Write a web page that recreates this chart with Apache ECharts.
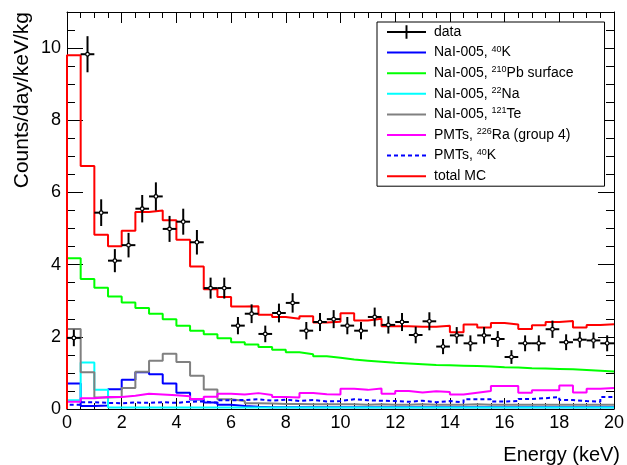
<!DOCTYPE html>
<html>
<head>
<meta charset="utf-8">
<script src="https://cdn.jsdelivr.net/npm/echarts@6/dist/echarts.min.js"></script>
<style>
  html, body { margin: 0; padding: 0; background: #fff; }
  #chart { width: 627px; height: 465px; }
</style>
</head>
<body>
<div id="chart"></div>
<script>
// lower edges of the 0.5 keV bins
const binWidth = 0.5;
const binEdges = [0, 0.5, 1, 1.5, 2, 2.5, 3, 3.5, 4, 4.5, 5, 5.5, 6, 6.5, 7, 7.5, 8, 8.5, 9, 9.5,
  10, 10.5, 11, 11.5, 12, 12.5, 13, 13.5, 14, 14.5, 15, 15.5, 16, 16.5, 17, 17.5, 18, 18.5, 19, 19.5];

// measured spectrum
const dataCounts = [1.97, 9.83, 5.44, 4.11, 4.54, 5.55, 5.89, 4.99, 5.19, 4.62, 3.35, 3.35, 2.31, 2.64, 2.08, 2.66, 2.94, 2.17, 2.41, 2.49,
  2.31, 2.17, 2.55, 2.33, 2.41, 2.05, 2.43, 1.73, 2.04, 1.82, 2.04, 1.94, 1.44, 1.82, 1.82, 2.21, 1.85, 1.92, 1.90, 1.82];
const dataErrors = [0.23, 0.50, 0.37, 0.32, 0.34, 0.38, 0.39, 0.36, 0.36, 0.34, 0.29, 0.29, 0.24, 0.26, 0.23, 0.26, 0.27, 0.24, 0.25, 0.25,
  0.24, 0.24, 0.26, 0.24, 0.25, 0.23, 0.25, 0.21, 0.23, 0.22, 0.23, 0.22, 0.19, 0.22, 0.22, 0.24, 0.22, 0.22, 0.22, 0.22];

// MC components
const naiK40 = [0.71, 0.08, 0.10, 0.55, 0.81, 1.02, 0.96, 0.71, 0.45, 0.26, 0.18, 0.12, 0.08, 0.06, 0.05, 0.05, 0.05, 0.05, 0.05, 0.05,
  0.05, 0.05, 0.05, 0.05, 0.05, 0.05, 0.05, 0.05, 0.05, 0.05, 0.05, 0.05, 0.05, 0.05, 0.05, 0.05, 0.05, 0.05, 0.05, 0.05];
const naiPb210 = [4.18, 3.60, 3.36, 3.12, 2.95, 2.80, 2.64, 2.49, 2.31, 2.17, 2.07, 1.96, 1.85, 1.79, 1.72, 1.64, 1.57, 1.52, 1.46, 1.42,
  1.37, 1.34, 1.31, 1.28, 1.26, 1.24, 1.22, 1.21, 1.20, 1.19, 1.18, 1.16, 1.15, 1.13, 1.12, 1.11, 1.10, 1.08, 1.06, 1.04];
const naiNa22 = [0.24, 1.29, 0.53, 0.04, 0.04, 0.04, 0.04, 0.04, 0.04, 0.04, 0.04, 0.04, 0.04, 0.04, 0.04, 0.04, 0.04, 0.04, 0.04, 0.04,
  0.04, 0.04, 0.04, 0.04, 0.04, 0.04, 0.04, 0.04, 0.04, 0.04, 0.04, 0.04, 0.04, 0.04, 0.04, 0.04, 0.04, 0.04, 0.04, 0.04];
const naiTe121 = [2.22, 1.02, 0.32, 0.33, 0.58, 1.03, 1.34, 1.53, 1.30, 0.92, 0.54, 0.27, 0.22, 0.16, 0.15, 0.14, 0.14, 0.13, 0.13, 0.13,
  0.13, 0.12, 0.13, 0.12, 0.12, 0.13, 0.12, 0.12, 0.12, 0.13, 0.12, 0.12, 0.12, 0.12, 0.12, 0.12, 0.12, 0.12, 0.12, 0.12];
const pmtRa226 = [0.20, 0.30, 0.33, 0.33, 0.37, 0.42, 0.40, 0.38, 0.35, 0.28, 0.34, 0.42, 0.40, 0.44, 0.39, 0.33, 0.32, 0.44, 0.41, 0.40,
  0.56, 0.53, 0.57, 0.42, 0.50, 0.46, 0.49, 0.47, 0.40, 0.45, 0.50, 0.64, 0.64, 0.45, 0.52, 0.52, 0.65, 0.46, 0.56, 0.58];
const pmtK40 = [0.12, 0.19, 0.17, 0.16, 0.18, 0.17, 0.19, 0.17, 0.20, 0.21, 0.17, 0.24, 0.25, 0.27, 0.23, 0.26, 0.22, 0.25, 0.21, 0.22,
  0.27, 0.24, 0.23, 0.22, 0.20, 0.23, 0.19, 0.22, 0.18, 0.27, 0.27, 0.21, 0.22, 0.28, 0.30, 0.33, 0.25, 0.22, 0.20, 0.33];
const totalMC = [9.80, 6.73, 4.83, 4.51, 4.94, 5.46, 5.50, 5.23, 4.69, 3.95, 3.32, 3.10, 2.84, 2.85, 2.61, 2.55, 2.50, 2.57, 2.40, 2.42,
  2.65, 2.45, 2.50, 2.29, 2.29, 2.28, 2.28, 2.31, 2.13, 2.34, 2.26, 2.38, 2.34, 2.22, 2.32, 2.41, 2.44, 2.26, 2.33, 2.35];

const FONT = 'Liberation Sans, Arial, sans-serif';

// histogram outline: start at the baseline, one point per bin edge, close at 20 keV
function histPoints(values) {
  const pts = [[binEdges[0], 0]];
  values.forEach((v, i) => pts.push([binEdges[i], v]));
  pts.push([binEdges[binEdges.length - 1] + binWidth, values[values.length - 1]]);
  return pts;
}

function histSeries(name, values, color, dashed) {
  return {
    name: name,
    type: 'line',
    step: 'end',
    symbol: 'none',
    data: histPoints(values),
    lineStyle: { width: 2, color: color, type: dashed ? [4, 3] : 'solid' },
    itemStyle: { color: color },
    clip: true
  };
}

const dataPoints = binEdges.map((e, i) => [e + binWidth / 2, dataCounts[i], dataErrors[i]]);

const sup = (s) => '{sup|' + s + '}';
const names = {
  data: 'data',
  k40: 'NaI-005, ' + sup('40') + 'K',
  pb210: 'NaI-005, ' + sup('210') + 'Pb surface',
  na22: 'NaI-005, ' + sup('22') + 'Na',
  te121: 'NaI-005, ' + sup('121') + 'Te',
  ra226: 'PMTs, ' + sup('226') + 'Ra (group 4)',
  pmtk40: 'PMTs, ' + sup('40') + 'K',
  total: 'total MC'
};

const axisBase = {
  type: 'value',
  axisLine: { show: true, onZero: false, lineStyle: { color: '#000', width: 1 } },
  splitLine: { show: false },
  axisLabel: { show: false }
};

const chart = echarts.init(document.getElementById('chart'));
chart.setOption({
  animation: false,
  backgroundColor: '#fff',
  grid: { left: 67, right: 7, top: 12, bottom: 56 },
  xAxis: [
    Object.assign({}, axisBase, {
      position: 'bottom', min: 0, max: 20, interval: 2,
      axisTick: { inside: true, length: 11, lineStyle: { color: '#000' } },
      minorTick: { show: true, splitNumber: 4, length: 6, lineStyle: { color: '#000' } },
      axisLabel: { show: true, color: '#000', fontSize: 18, fontFamily: FONT, margin: 5 }
    }),
    Object.assign({}, axisBase, {
      position: 'top', min: 0, max: 20, interval: 2,
      axisTick: { inside: true, length: 11, lineStyle: { color: '#000' } },
      minorTick: { show: true, splitNumber: 4, length: 6, lineStyle: { color: '#000' } }
    })
  ],
  yAxis: [
    Object.assign({}, axisBase, {
      position: 'left', min: 0, max: 11, interval: 2,
      axisTick: { inside: true, length: 16, lineStyle: { color: '#000' } },
      axisLabel: { show: true, color: '#000', fontSize: 18, fontFamily: FONT, margin: 6, showMaxLabel: false }
    }),
    Object.assign({}, axisBase, {
      position: 'left', min: 0, max: 11, interval: 0.5,
      axisLine: { show: false, onZero: false },
      axisTick: { inside: true, length: 8, lineStyle: { color: '#000' } }
    }),
    Object.assign({}, axisBase, {
      position: 'right', min: 0, max: 11, interval: 2,
      axisTick: { inside: true, length: 16, lineStyle: { color: '#000' } }
    }),
    Object.assign({}, axisBase, {
      position: 'right', min: 0, max: 11, interval: 0.5,
      axisLine: { show: false, onZero: false },
      axisTick: { inside: true, length: 8, lineStyle: { color: '#000' } }
    })
  ],
  legend: {
    orient: 'vertical',
    left: 377,
    top: 22,
    padding: [2, 31, 2, 9],
    itemGap: 4.6,
    itemWidth: 39,
    itemHeight: 14,
    backgroundColor: '#fff',
    borderColor: '#000',
    borderWidth: 1,
    borderRadius: 0,
    selectedMode: false,
    // hide the marker drawn on the line icons, keep the line itself
    itemStyle: { opacity: 0 },
    textStyle: {
      color: '#000', fontSize: 14, fontFamily: FONT, lineHeight: 16, padding: [0, 0, 0, 3],
      rich: { sup: { fontSize: 9, lineHeight: 9, verticalAlign: 'top', fontFamily: FONT, color: '#000' } }
    },
    data: [
      { name: names.data, icon: 'path://M0,6h40v2h-40z M19,0h2v14h-2z', itemStyle: { opacity: 1, color: '#000' } },
      names.k40, names.pb210, names.na22, names.te121, names.ra226, names.pmtk40, names.total
    ]
  },
  graphic: [
    {
      type: 'text', x: 22, y: 12, rotation: Math.PI / 2,
      style: { text: 'Counts/day/keV/kg', fontSize: 21, fontFamily: FONT, fill: '#000', textAlign: 'right', textVerticalAlign: 'middle' }
    },
    {
      type: 'text', x: 620, y: 455,
      style: { text: 'Energy (keV)', fontSize: 20, fontFamily: FONT, fill: '#000', textAlign: 'right', textVerticalAlign: 'middle' }
    }
  ],
  series: [
    histSeries(names.k40, naiK40, '#0000ff', false),
    histSeries(names.pb210, naiPb210, '#00ff00', false),
    histSeries(names.na22, naiNa22, '#00ffff', false),
    histSeries(names.te121, naiTe121, '#808080', false),
    histSeries(names.ra226, pmtRa226, '#ff00ff', false),
    histSeries(names.pmtk40, pmtK40, '#0000ff', true),
    histSeries(names.total, totalMC, '#ff0000', false),
    {
      name: names.data,
      type: 'custom',
      itemStyle: { color: '#000' },
      encode: { x: 0, y: 1 },
      data: dataPoints,
      z: 5,
      renderItem: function (params, api) {
        const x = api.value(0), y = api.value(1), err = api.value(2);
        const c = api.coord([x, y]);
        const l = api.coord([x - binWidth / 2, y]);
        const r = api.coord([x + binWidth / 2, y]);
        const t = api.coord([x, y + err]);
        const b = api.coord([x, y - err]);
        return {
          type: 'group',
          children: [
            { type: 'line', shape: { x1: l[0], y1: c[1], x2: r[0], y2: c[1] }, style: { stroke: '#000', lineWidth: 2 } },
            { type: 'line', shape: { x1: c[0], y1: t[1], x2: c[0], y2: b[1] }, style: { stroke: '#000', lineWidth: 2 } },
            { type: 'circle', shape: { cx: c[0], cy: c[1], r: 1.8 }, style: { fill: '#fff', stroke: '#000', lineWidth: 1.2 } }
          ]
        };
      }
    }
  ]
});
</script>
</body>
</html>
